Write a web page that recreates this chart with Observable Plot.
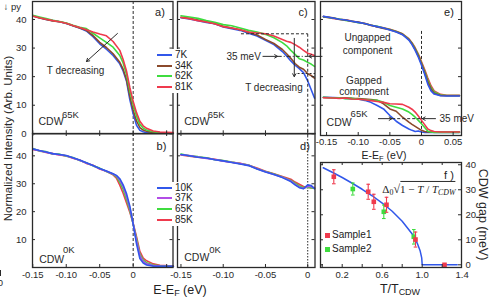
<!DOCTYPE html>
<html><head><meta charset="utf-8">
<script src="https://cdn.jsdelivr.net/npm/d3@7"></script>
<script src="https://cdn.jsdelivr.net/npm/@observablehq/plot@0.6"></script>
<style>
body{margin:0;background:#fff;}
#c{position:relative;width:491px;height:300px;overflow:hidden;font-family:"Liberation Sans",Arial,sans-serif;color:#222;}
.t{position:absolute;white-space:nowrap;line-height:1;}
sub{font-size:0.72em;vertical-align:-0.3em;line-height:0;}
</style></head><body><div id="c"></div>
<script>
// ---------- DATA ----------
const aX = [-0.15,-0.14,-0.13,-0.12,-0.11,-0.10,-0.09,-0.08,-0.07,-0.06,-0.05,-0.04,-0.03,-0.02,-0.015,-0.01,-0.005,0,0.005,0.01,0.015,0.02,0.03,0.04,0.06];
const a7K  = [41.3,40.6,40.0,39.6,39.2,38.6,37.8,37.0,36.0,34.0,31.5,29.6,27.4,24.5,22.0,18.5,12.0,7.0,3.0,1.2,0.7,0.4,0.2,0.2,0.2];
const a34K = [41.2,40.5,40.0,39.5,39.2,38.7,37.8,37.0,36.2,34.4,32.0,30.2,28.0,25.0,22.6,19.0,13.2,8.2,4.5,2.2,1.3,0.9,0.4,0.3,0.2];
const a62K = [41.5,40.9,40.3,39.7,39.3,38.8,38.0,37.3,36.8,35.2,33.6,32.0,30.3,27.4,24.8,20.8,15.0,10.2,6.2,3.3,2.0,1.3,0.7,0.4,0.3];
const a81K = [41.2,40.6,40.1,39.6,39.2,38.7,37.9,37.2,36.4,35.6,34.9,34.3,32.3,29.2,26.0,22.0,16.2,11.3,7.4,4.4,2.8,1.9,1.0,0.6,0.4];
const bX = [-0.15,-0.14,-0.13,-0.12,-0.11,-0.10,-0.09,-0.08,-0.07,-0.06,-0.05,-0.04,-0.03,-0.025,-0.02,-0.015,-0.01,-0.005,0,0.005,0.01,0.015,0.02,0.03,0.04,0.06];
const b10K = [42.5,41.9,41.4,40.8,40.5,40.1,39.3,38.5,37.5,36.5,35.5,34.6,33.6,33.0,31.8,29.6,26.5,22.0,15.5,8.5,3.2,1.6,0.9,0.5,0.4,0.4];
const b37K = [42.4,41.8,41.3,40.7,40.4,40.0,39.2,38.4,37.4,36.5,35.4,34.5,33.5,32.8,31.3,29.0,25.5,21.3,15.6,9.5,4.2,2.2,1.3,0.7,0.5,0.4];
const b65K = [42.6,41.7,41.5,40.6,40.6,39.9,39.4,38.3,37.5,36.4,35.6,34.4,33.4,32.5,30.6,28.0,24.4,20.5,15.6,10.3,4.8,2.7,1.7,0.9,0.6,0.4];
const b85K = [42.3,41.8,41.2,40.8,40.3,40.0,39.1,38.5,37.3,36.6,35.3,34.5,33.2,32.0,29.5,26.6,23.2,19.8,15.8,11.0,5.8,3.4,2.4,1.3,0.8,0.5];
const cX = [-0.15,-0.14,-0.13,-0.12,-0.11,-0.10,-0.09,-0.08,-0.07,-0.06,-0.05,-0.04,-0.03,-0.025,-0.02,-0.015,-0.01,-0.005,0,0.004,0.008];
const c7K  = [40.6,40.2,39.6,39.0,38.5,37.4,36.8,36.2,35.2,34.2,32.7,31.2,28.8,27.2,25.5,24.0,22.8,21.4,18.5,15.5,12.5];
const c34K = [40.8,40.4,39.8,39.2,38.5,37.6,37.0,36.4,35.5,34.6,33.0,31.6,29.5,28.0,26.4,24.6,23.3,22.6,21.0,20.4,19.5];
const c62K = [41.3,40.9,40.4,39.6,39.0,38.2,37.8,37.0,36.2,35.6,34.8,33.6,31.9,30.8,29.2,27.8,26.3,25.8,25.0,24.4,23.6];
const c81K = [40.7,40.3,39.6,39.1,38.5,37.5,37.0,36.4,35.6,35.3,35.0,34.2,33.0,32.4,32.0,31.2,30.3,29.2,28.2,27.8,27.4];
const dX = [-0.15,-0.14,-0.13,-0.12,-0.11,-0.10,-0.09,-0.08,-0.07,-0.06,-0.05,-0.04,-0.03,-0.02,-0.015,-0.01,-0.005,0,0.004,0.008];
const d10K = [40.5,40.0,39.5,39.2,38.6,38.2,37.6,37.1,36.5,35.3,34.2,33.3,32.2,30.8,29.6,28.6,28.2,29.6,29.4,28.2];
const d37K = [40.4,40.1,39.6,39.1,38.7,38.1,37.7,37.2,36.6,35.4,34.3,33.3,32.3,31.0,29.9,28.8,28.3,29.0,29.0,28.4];
const d65K = [40.6,40.0,39.7,39.3,38.6,38.3,37.8,37.2,36.7,35.4,34.4,33.5,32.4,31.2,30.2,29.2,28.6,28.8,28.6,28.3];
const d85K = [40.3,39.9,39.5,39.2,38.8,38.2,37.7,37.3,36.6,35.6,34.5,33.6,32.6,31.6,30.6,29.8,29.0,28.8,28.5,28.6];
const eX = [-0.155,-0.14,-0.13,-0.12,-0.11,-0.10,-0.09,-0.08,-0.07,-0.06,-0.05,-0.04,-0.03,-0.02,-0.015,-0.01,-0.005,0,0.005,0.01,0.015,0.02,0.03,0.04,0.06];
const eU7K  = [41.1,40.5,40.1,39.8,39.4,39.0,38.6,38.0,37.5,37.0,36.3,35.6,34.7,32.8,31.2,29.2,26.8,24.0,20.8,17.3,15.0,13.9,13.3,13.2,13.2];
const eU34K = [41.0,40.6,40.0,39.8,39.3,39.1,38.5,38.1,37.4,36.9,36.4,35.7,34.8,33.0,31.5,29.5,27.3,24.5,21.4,18.2,15.7,14.2,13.4,13.3,13.3];
const eU62K = [40.9,40.5,40.2,39.7,39.4,38.9,38.6,38.0,37.6,37.0,36.5,35.8,34.9,33.1,31.7,29.8,27.6,24.8,21.9,18.8,16.2,14.6,13.6,13.4,13.4];
const eU81K = [41.0,40.4,40.1,39.9,39.5,39.0,38.7,37.9,37.5,37.1,36.6,35.9,35.0,33.3,31.9,30.1,27.9,25.2,22.5,19.5,16.8,15.0,13.8,13.5,13.5];
const eG7K  = [12.8,12.7,12.6,12.4,12.3,12.2,11.7,11.0,9.9,8.7,6.4,4.4,2.9,1.7,1.2,0.8,1.0,0.6,0.5,0.5,0.5,0.5,0.5,0.5,0.5];
const eG34K = [12.7,12.6,12.5,12.6,12.4,12.3,12.2,12.0,11.7,10.5,8.7,7.9,5.8,4.1,3.3,2.6,1.9,1.2,0.8,0.6,0.6,0.6,0.6,0.6,0.6];
const eG62K = [12.8,12.5,12.6,12.3,12.4,12.1,12.0,11.8,11.7,11.0,9.9,9.3,8.7,7.6,6.8,5.8,4.7,3.5,2.2,0.9,0.6,0.5,0.5,0.5,0.5];
const eG81K = [12.6,12.5,12.4,12.5,12.2,12.1,11.9,11.6,11.3,11.0,10.5,10.4,10.3,9.3,8.6,7.6,6.2,4.7,3.2,1.7,1.1,0.8,0.6,0.6,0.6];
const s1T = [0.116,0.46,0.516,0.643,0.933,1.223];
const s1G = [35.2,29.2,25.2,24.0,10.1,0];
const s1E = [2.8,3.0,3.0,3.0,3.0,0];
const s2T = [0.306,0.616,0.916];
const s2G = [30.3,21.2,11.2];
const s2E = [2.4,2.7,2.9];
const fitT = [0.01,0.1,0.2,0.3,0.4,0.5,0.6,0.7,0.8,0.9,0.95,0.98,0.995,1.0,1.35];
const fitG = [38.8,37.0,34.9,32.6,30.2,27.6,24.7,21.4,17.4,12.3,8.7,5.5,2.8,0,0];
const legA = ["7K","34K","62K","81K"];
const legB = ["10K","37K","65K","85K"];
const legF = ["Sample1","Sample2"];
const energyTicks = [-0.15,-0.10,-0.05,0];
const energyTicksE = [-0.15,-0.10,-0.05,0,0.05];
const intensityTicks = [0,10,20,30,40];
const tTicks = [0.2,0.6,1.0,1.4];
const gapTicks = [0,10,20,30,40];

// ---------- STYLE ----------
const COL = {blue:"#3157ea", brown:"#8b4a2c", green:"#3fdc3f", red:"#ef3a4d", purple:"#b24de6"};
const INK = "#2a2a2a";
const FONT = '"Liberation Sans", Arial, sans-serif';
const container = document.getElementById("c");
const f2 = d => d === 0 ? "0" : d.toFixed(2);

function panel({L,R,T,B,mL=1,mR=1,mT=1,mB=1,xd,yd,marks}) {
  const svg = Plot.plot({
    width: mL+(R-L)+mR, height: mT+(B-T)+mB,
    marginLeft:mL, marginRight:mR, marginTop:mT, marginBottom:mB,
    x:{domain:xd, axis:null}, y:{domain:yd, axis:null},
    style:{fontFamily:FONT, fontSize:"9.5px", color:INK, background:"transparent", overflow:"visible"},
    marks
  });
  Object.assign(svg.style,{position:"absolute",left:(L-mL)+"px",top:(T-mT)+"px"});
  container.appendChild(svg);
  return svg;
}
function ticks(P,{xt=[],yt=[],sides="lrb",len=3}) {
  const kx=(P.xd[1]-P.xd[0])/(P.R-P.L)*len, ky=(P.yd[1]-P.yd[0])/(P.B-P.T)*len;
  const m=[], o={stroke:INK,strokeWidth:1};
  if (sides.includes("b")) m.push(Plot.ruleX(xt,{x:d=>d,y1:P.yd[0],y2:P.yd[0]+ky,...o}));
  if (sides.includes("t")) m.push(Plot.ruleX(xt,{x:d=>d,y1:P.yd[1],y2:P.yd[1]-ky,...o}));
  if (sides.includes("l")) m.push(Plot.ruleY(yt,{y:d=>d,x1:P.xd[0],x2:P.xd[0]+kx,...o}));
  if (sides.includes("r")) m.push(Plot.ruleY(yt,{y:d=>d,x1:P.xd[1],x2:P.xd[1]-kx,...o}));
  return m;
}
const curve = (xs, ys, c, w=1.6) => Plot.line(xs.map((x,i)=>[x,ys[i]]), {x:d=>d[0], y:d=>d[1], stroke:c, strokeWidth:w});
const lbl = (x,y,t,o={}) => Plot.text([t], {x:[x], y:[y], text:[t], fill:INK, fontSize:10, ...o});
const arr = (x1,y1,x2,y2,o={}) => Plot.arrow([0], {x1:[x1],y1:[y1],x2:[x2],y2:[y2],stroke:INK,strokeWidth:1,headLength:5,headAngle:60,...o});
const seg = (x1,y1,x2,y2,o={}) => Plot.link([0], {x1:[x1],y1:[y1],x2:[x2],y2:[y2],stroke:INK,strokeWidth:1,...o});
const frame = () => Plot.frame({stroke:INK, strokeWidth:1.3});
const cdw = (x1,y1,x2,y2,sup) => [lbl(x1,y1,"CDW",{textAnchor:"start",fontSize:10.5}), lbl(x2,y2,sup,{textAnchor:"start",fontSize:9.5})];

// ---------- PANEL a ----------
const PA = {L:32,R:172.5,T:1,B:133.3,mL:1,xd:[-0.1504,0.0595],yd:[0,46.3]};
PA.marks = [
  Plot.ruleX([0],{stroke:INK,strokeWidth:1,strokeDasharray:"3,2"}),
  curve(aX,a7K,COL.blue), curve(aX,a34K,COL.brown), curve(aX,a62K,COL.green), curve(aX,a81K,COL.red),
  arr(-0.0235,35.1,-0.0698,25.3),
  lbl(-0.086,22.2,"T decreasing"),
  ...cdw(-0.1414,4.3,-0.1063,6.6,"65K"),
  ...ticks(PA,{xt:[...energyTicks,0.05],yt:intensityTicks,sides:"lrb"}),
  frame()
];
const svgA = panel(PA);

// ---------- PANEL b ----------
const PB = {L:32,R:172.5,T:133.3,B:267.3,mL:1,mB:16,xd:[-0.1504,0.0595],yd:[0,48]};
PB.marks = [
  Plot.ruleX([0],{stroke:INK,strokeWidth:1,strokeDasharray:"3,2"}),
  curve(bX,b85K,COL.red), curve(bX,b65K,COL.green), curve(bX,b37K,COL.purple), curve(bX,b10K,COL.blue),
  ...cdw(-0.1405,3.0,-0.1048,6.2,"0K"),
  ...ticks(PB,{xt:[...energyTicks,0.05],yt:intensityTicks,sides:"lrbt"}),
  Plot.axisX(energyTicks,{anchor:"bottom",tickSize:0,tickPadding:4,label:null,tickFormat:f2}),
  frame()
];
const svgB = panel(PB);

// ---------- PANEL c ----------
const PC = {L:176.5,R:314,T:1,B:133.3,mR:10,xd:[-0.1541,0.0086],yd:[0,46.3]};
PC.marks = [
  curve(cX,c7K,COL.blue), curve(cX,c34K,COL.brown), curve(cX,c62K,COL.green), curve(cX,c81K,COL.red),
  seg(-0.079,35,0,35,{strokeDasharray:"3,2"}),
  seg(0,35,0,0,{strokeDasharray:"3,2"}),
  seg(-0.0355,27.1,0,27.1,{strokeDasharray:"4,2,1,2"}),
  seg(-0.012,21.1,0.0086,21.1,{strokeDasharray:"2,2"}),
  arr(-0.053,27.1,-0.0357,27.1),
  arr(0.0169,27.1,0.0012,27.1),
  arr(-0.0159,33.4,-0.0159,20),
  lbl(-0.0555,27.1,"35 meV",{textAnchor:"end"}),
  lbl(-0.040,16.2,"T decreasing"),
  ...cdw(-0.1461,4.1,-0.1184,6.6,"65K"),
  ...ticks(PC,{xt:energyTicks,yt:intensityTicks,sides:"lrb"}),
  frame()
];
panel(PC);

// ---------- PANEL d ----------
const PD = {L:176.5,R:314,T:133.3,B:267.3,mB:16,xd:[-0.1541,0.0086],yd:[0,48]};
PD.marks = [
  Plot.ruleX([0],{stroke:INK,strokeWidth:1,strokeDasharray:"1.5,1.5"}),
  curve(dX,d85K,COL.red), curve(dX,d65K,COL.green), curve(dX,d37K,COL.purple), curve(dX,d10K,COL.blue),
  ...cdw(-0.1461,3.4,-0.1165,6.4,"0K"),
  ...ticks(PD,{xt:energyTicks,yt:intensityTicks,sides:"lrbt"}),
  Plot.axisX(energyTicks,{anchor:"bottom",tickSize:0,tickPadding:4,label:null,tickFormat:f2}),
  frame()
];
panel(PD);

// ---------- PANEL e ----------
const PE = {L:320,R:461,T:1,B:135,mB:14,xd:[-0.1596,0.0632],yd:[-0.6,46.3]};
PE.marks = [
  seg(0,36,0,-0.6,{strokeDasharray:"3,2"}),
  curve(eX,eU81K,COL.red), curve(eX,eU62K,COL.green), curve(eX,eU34K,COL.brown), curve(eX,eU7K,COL.blue),
  curve(eX,eG7K,COL.blue), curve(eX,eG34K,COL.brown), curve(eX,eG62K,COL.green), curve(eX,eG81K,COL.red),
  lbl(-0.0853,33.6,"Ungapped"), lbl(-0.0853,29.2,"component"),
  lbl(-0.091,18.7,"Gapped"), lbl(-0.091,14.6,"component"),
  arr(-0.068,5.3,-0.0465,5.3),
  seg(-0.0463,5.3,0,5.3,{strokeDasharray:"3,2"}),
  arr(0.0221,5.3,0.0012,5.3),
  lbl(0.0284,5.3,"35 meV",{textAnchor:"start"}),
  ...cdw(-0.150,3.8,-0.112,6.8,"65K"),
  ...ticks(PE,{xt:energyTicksE,yt:[10,20,30,40],sides:"lrb"}),
  Plot.axisX(energyTicksE,{anchor:"bottom",tickSize:0,tickPadding:3,label:null,tickFormat:f2}),
  frame()
];
panel(PE);

// ---------- PANEL f ----------
const PF = {L:320,R:461,T:161.7,B:266.7,mR:26,mB:14,xd:[-0.017,1.393],yd:[-1.08,40.9]};
const pts1 = s1T.map((t,i)=>({t,g:s1G[i],e:s1E[i]}));
const pts2 = s2T.map((t,i)=>({t,g:s2G[i],e:s2E[i]}));
const errMarks = (pts,c) => {
  const p = pts.filter(d=>d.e>0), o={stroke:c,strokeWidth:1.1};
  return [
    Plot.ruleX(p,{x:"t",y1:d=>d.g-d.e,y2:d=>d.g+d.e,...o}),
    Plot.link(p,{x1:d=>d.t-0.018,x2:d=>d.t+0.018,y1:d=>d.g+d.e,y2:d=>d.g+d.e,...o}),
    Plot.link(p,{x1:d=>d.t-0.018,x2:d=>d.t+0.018,y1:d=>d.g-d.e,y2:d=>d.g-d.e,...o}),
    Plot.dot(pts,{x:"t",y:"g",symbol:"square",r:2.6,fill:c,stroke:null})
  ];
};
PF.marks = [
  curve(fitT,fitG,COL.blue,1.5),
  ...errMarks(pts2,COL.green),
  ...errMarks(pts1,COL.red),
  ...ticks(PF,{xt:[0,0.2,0.4,0.6,0.8,1.0,1.2],yt:gapTicks,sides:"lrbt"}),
  Plot.axisX(tTicks,{anchor:"bottom",tickSize:0,tickPadding:4,label:null,tickFormat:d=>d.toFixed(1)}),
  Plot.axisY(gapTicks,{anchor:"right",tickSize:0,tickPadding:4,label:null,tickFormat:d=>String(d)}),
  frame()
];
panel(PF);

// ---------- right rotated title ----------
{
  const svg = Plot.plot({
    width: 16, height: 110, margin: 0, x:{domain:[0,1],axis:null}, y:{domain:[0,1],axis:null},
    style:{fontFamily:FONT, color:INK, background:"transparent", overflow:"visible"},
    marks:[Plot.text(["CDW gap (meV)"],{frameAnchor:"middle", rotate:90, fontSize:12.5, fill:INK, text:d=>d})]
  });
  Object.assign(svg.style,{position:"absolute",left:"474px",top:"159px"});
  container.appendChild(svg);
}

// ---------- left strip: y title + intensity tick labels (positions from the panels' y scales) ----------
{
  const sA = svgA.scale("y"), sB = svgB.scale("y");
  const leftLab = [
    ...intensityTicks.map(v => ({v, py: (PA.T - 1) + sA.apply(v)})),
    ...intensityTicks.filter(d => d > 0).map(v => ({v, py: (PB.T - 1) + sB.apply(v)}))
  ];
  const strip = Plot.plot({
    width: 31, height: 270, margin: 0,
    x: {type: "identity"}, y: {type: "identity"},
    style: {fontFamily: FONT, fontSize: "9.5px", color: INK, background: "transparent", overflow: "visible"},
    marks: [
      Plot.text(["Normalized Intensity (Arb. Units)"], {x: [8], y: [138], rotate: -90, fontSize: 11.5, fill: INK, text: d => d}),
      Plot.text(leftLab, {x: () => 26, y: "py", text: d => String(d.v), textAnchor: "end", fill: INK, fontSize: 9.5})
    ]
  });
  Object.assign(strip.style, {position: "absolute", left: "0px", top: "0px"});
  container.appendChild(strip);
}

// ---------- HTML overlays (titles, labels, legends) ----------
function txt(html,cx,cy,style="") {
  const d=document.createElement("div"); d.className="t"; d.innerHTML=html;
  d.style.cssText=`left:${cx}px;top:${cy}px;transform:translate(-50%,-50%);${style}`;
  container.appendChild(d); return d;
}
txt("E-E<sub>F</sub> (eV)",180,290,"font-size:12.5px;");
txt("E-E<sub>F</sub> (eV)",384,155,"font-size:10.5px;");
txt("T/T<sub>CDW</sub>",400,289,"font-size:12.5px;");
[["a)",160,12],["c)",303,12],["b)",161.5,146],["d)",305,146],["e)",449,12],["f )",449,174.5]]
  .forEach(([t,x,y])=>txt(t,x,y,"font-size:11px;"));
txt('Δ<sub>0</sub><span style="font-size:1.1em">√</span><span style="border-top:1px solid #2a2a2a;padding-top:1px">1 − <i>T</i> / <i>T</i><sub><i>CDW</i></sub></span>',419,189,
  'font-family:"Liberation Serif","DejaVu Serif",serif;font-size:11px;');

function legend(box,rows,labels,colors) {
  const b=document.createElement("div");
  b.style.cssText=`position:absolute;left:${box[0]}px;top:${box[1]}px;width:${box[2]}px;height:${box[3]}px;background:#fff;`;
  container.appendChild(b);
  labels.forEach((t,i)=>{
    const s=document.createElement("div");
    s.style.cssText=`position:absolute;left:157px;top:${rows[i]-1.1}px;width:15px;height:2.2px;background:${colors[i]};`;
    container.appendChild(s);
    const d=document.createElement("div"); d.className="t"; d.textContent=t;
    d.style.cssText=`left:175px;top:${rows[i]}px;transform:translateY(-50%);font-size:10px;`;
    container.appendChild(d);
  });
}
legend([154,48.5,46,44],[55,65.7,76.3,87],legA,[COL.blue,COL.brown,COL.green,COL.red]);
legend([154,181.5,46,44],[187.7,198.3,209,219.7],legB,[COL.blue,COL.purple,COL.green,COL.red]);
legF.forEach((t,i)=>{
  const y=[235,249][i], c=[COL.red,COL.green][i];
  const s=document.createElement("div");
  s.style.cssText=`position:absolute;left:324.5px;top:${y-2.5}px;width:5px;height:5px;background:${c};`;
  container.appendChild(s);
  const d=document.createElement("div"); d.className="t"; d.textContent=t;
  d.style.cssText=`left:332px;top:${y}px;transform:translateY(-50%);font-size:10px;`;
  container.appendChild(d);
});
</script></body></html>
